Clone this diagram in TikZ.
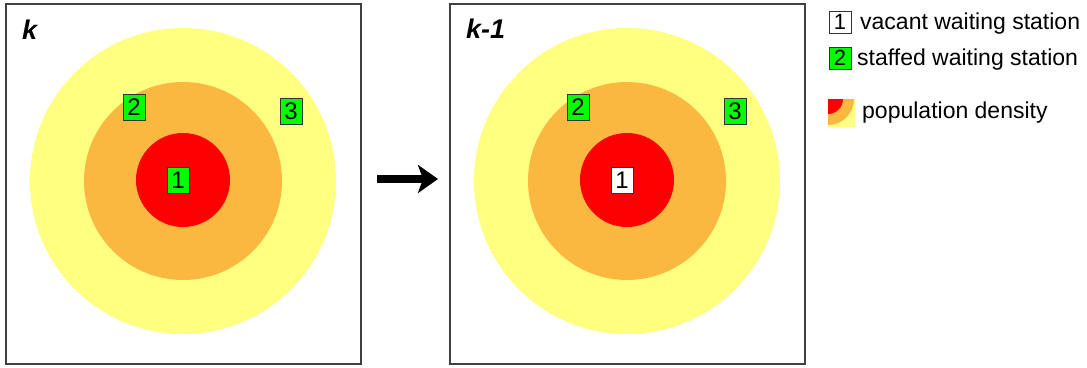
\documentclass[tikz,border=0pt]{standalone}
\usepackage{fontspec}
\setmainfont{Liberation Sans}
\usetikzlibrary{arrows.meta}
\definecolor{densyellow}{RGB}{255,255,128}
\definecolor{densorange}{RGB}{250,184,64}
\definecolor{densred}{RGB}{255,0,0}
\definecolor{staffgreen}{RGB}{0,255,0}
\tikzset{
  station/.style={draw=black!80, line width=1pt, minimum width=22pt, minimum height=26pt,
    inner sep=0pt, font=\fontsize{24}{24}\selectfont},
  staffed/.style={station, fill=staffgreen},
  vacant/.style={station, fill=white},
  legbox/.style={minimum width=22pt, minimum height=22pt, font=\fontsize{22}{22}\selectfont},
  panel/.style={draw=black!75, line width=1.3pt},
  legtext/.style={anchor=base west, inner sep=0pt, font=\fontsize{23}{25}\selectfont},
  panellabel/.style={anchor=base west, inner sep=0pt, font=\fontsize{27}{27}\selectfont\bfseries\itshape},
}
\begin{document}
\begin{tikzpicture}[x=1pt,y=-1pt]
\useasboundingbox (0,0) rectangle (1087,367);
% step k
\draw[panel] (6,4) rectangle (361,364);
\fill[densyellow] (183,181) circle (153);
\fill[densorange] (183,181) circle (99);
\fill[densred] (183,180) circle (47);
\node[panellabel] (labk) at (22,39) {k};
\node[staffed] (k1) at (178,180) {1};
\node[staffed] (k2) at (134,107) {2};
\node[staffed] (k3) at (291,111) {3};
% step k-1
\begin{scope}[xshift=444pt]
\draw[panel] (6,4) rectangle (361,364);
\fill[densyellow] (183,181) circle (153);
\fill[densorange] (183,181) circle (99);
\fill[densred] (183,180) circle (47);
\node[panellabel] (labm) at (22,38) {k-1};
\node[vacant] (m1) at (178,180) {1};
\node[staffed] (m2) at (134,107) {2};
\node[staffed] (m3) at (291,111) {3};
\end{scope}
\coordinate (arrtail) at (377,179);
\coordinate (arrtip) at (438,179);
\draw[line width=8pt, -{Stealth[length=20pt,width=28pt,inset=5pt]}] (arrtail) -- (arrtip);
% legend
\node[vacant, legbox] (legvac) at (840,22) {1};
\node[legtext] (legvactext) at (860,29) {vacant waiting station};
\node[staffed, legbox] (legstaff) at (840,58) {2};
\node[legtext] (legstafftext) at (857,65) {staffed waiting station};
\begin{scope}
\clip (828,99) rectangle (855,127);
\fill[densyellow] (828,99) rectangle (855,127);
\fill[densorange] (828,99) circle (26);
\fill[densred] (828,99) circle (15);
\end{scope}
\node[legtext] (legdenstext) at (862,118) {population density};
\end{tikzpicture}
\end{document}
